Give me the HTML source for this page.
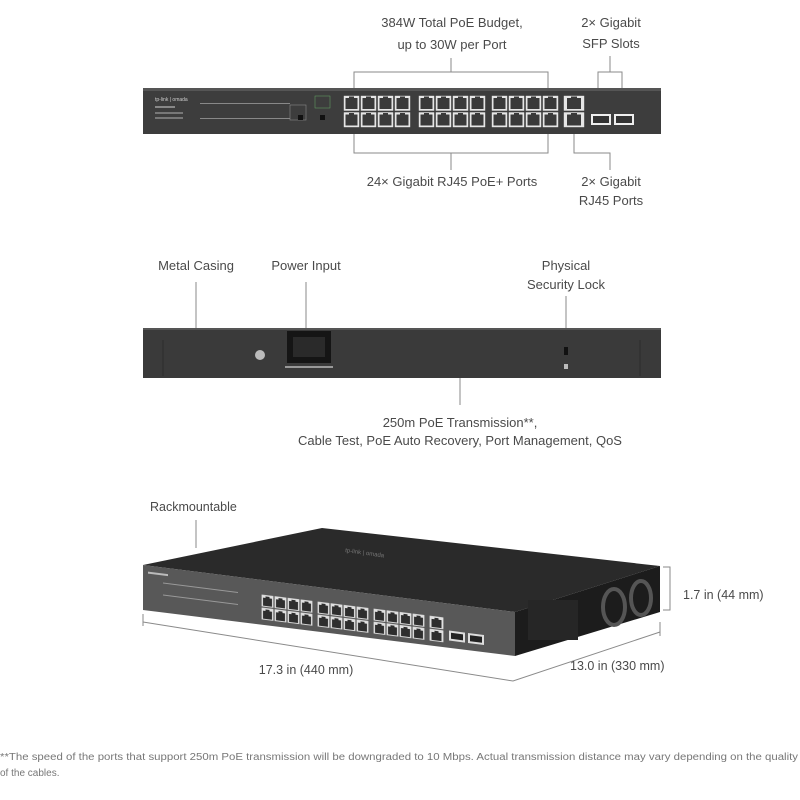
<!DOCTYPE html>
<html><head><meta charset="utf-8"><style>
html,body{margin:0;padding:0;background:#fff;width:800px;height:800px;overflow:hidden}
text{font-family:"Liberation Sans",sans-serif;fill:#4a4a4a;font-size:13px}
</style></head><body>
<svg width="800" height="800" viewBox="0 0 800 800" xmlns="http://www.w3.org/2000/svg">
<defs>
<pattern id="rj" x="0" y="0" width="0.25" height="0.5" patternUnits="objectBoundingBox" patternContentUnits="userSpaceOnUse">
<rect x="0.8" y="0.8" width="15.4" height="14.9" fill="#e6e6e6"/>
<rect x="2.5" y="3" width="12" height="11" fill="#3a3a3a"/>
<rect x="6" y="1.5" width="5" height="3" fill="#3a3a3a"/>
</pattern>
<pattern id="rjS" x="0" y="0" width="1" height="0.5" patternUnits="objectBoundingBox" patternContentUnits="userSpaceOnUse">
<rect x="0.8" y="0.8" width="20.4" height="14.9" fill="#e6e6e6"/>
<rect x="4" y="3" width="14" height="11" fill="#3a3a3a"/>
<rect x="8" y="1.5" width="6" height="3" fill="#3a3a3a"/>
</pattern>
<pattern id="rj3" x="0" y="0" width="0.25" height="0.5" patternUnits="objectBoundingBox" patternContentUnits="userSpaceOnUse">
<rect x="0.6" y="0.6" width="11.8" height="11.8" fill="#e0e0e0"/>
<rect x="2" y="3.5" width="9" height="8" fill="#2e2e2e"/>
<rect x="4.5" y="2" width="4" height="2.5" fill="#2e2e2e"/>
</pattern>
<pattern id="rj3S" x="0" y="0" width="1" height="0.5" patternUnits="objectBoundingBox" patternContentUnits="userSpaceOnUse">
<rect x="0.6" y="0.6" width="13.8" height="11.8" fill="#e0e0e0"/>
<rect x="2.5" y="3.5" width="10" height="8" fill="#2e2e2e"/>
<rect x="5.5" y="2" width="4" height="2.5" fill="#2e2e2e"/>
</pattern>
</defs>
<g stroke="#8a8a8a" stroke-width="1" fill="none">
<path d="M354 88V72H548V88M451 72V58"/>
<path d="M598 116V72H622V116M610 72V56"/>
<path d="M354 130V153H548V130M451 153V170"/>
<path d="M574 128V153H610V170"/>
<path d="M196 282V328M306 282V334M566 296V350M460 378V405"/>
<path d="M196 520V548"/>
<path d="M143 622L513 681L660 632"/>
<path d="M143 614V626M660 622V636"/>
<path d="M663 567H670V610H663"/>
</g>
<text x="452" y="27" text-anchor="middle">384W Total PoE Budget,</text>
<text x="452" y="49" text-anchor="middle">up to 30W per Port</text>
<text x="611" y="27" text-anchor="middle">2× Gigabit</text>
<text x="611" y="48" text-anchor="middle">SFP Slots</text>
<text x="452" y="186" text-anchor="middle">24× Gigabit RJ45 PoE+ Ports</text>
<text x="611" y="186" text-anchor="middle">2× Gigabit</text>
<text x="611" y="205" text-anchor="middle">RJ45 Ports</text>
<!-- top switch -->
<rect x="143" y="88" width="518" height="46" fill="#3d3d3d"/>
<rect x="143" y="88" width="518" height="3" fill="#555"/>
<text x="155" y="101" style="font-size:5px;fill:#ccc">tp-link | omada</text>
<rect x="155" y="106" width="20" height="2" fill="#888"/>
<rect x="155" y="112" width="28" height="2" fill="#777"/>
<rect x="155" y="117" width="28" height="2" fill="#777"/>
<rect x="200" y="103" width="90" height="1" fill="#888"/>
<rect x="200" y="118" width="90" height="1" fill="#888"/>
<rect x="290" y="105" width="16" height="15" fill="none" stroke="#888" stroke-width="0.6"/>
<rect x="298" y="115" width="5" height="5" fill="#111"/>
<rect x="320" y="115" width="5" height="5" fill="#111"/>
<rect x="315" y="96" width="15" height="12" fill="none" stroke="#6a6" stroke-width="0.5"/>
<rect x="343" y="95" width="68" height="33" fill="url(#rj)"/>
<rect x="418" y="95" width="68" height="33" fill="url(#rj)"/>
<rect x="491" y="95" width="68" height="33" fill="url(#rj)"/>
<rect x="563" y="95" width="22" height="33" fill="url(#rjS)"/>
<rect x="591" y="114" width="20" height="11" fill="#eee"/><rect x="593" y="116" width="16" height="7" fill="#333"/>
<rect x="614" y="114" width="20" height="11" fill="#eee"/><rect x="616" y="116" width="16" height="7" fill="#333"/>
<!-- middle labels -->
<text x="196" y="270" text-anchor="middle">Metal Casing</text>
<text x="306" y="270" text-anchor="middle">Power Input</text>
<text x="566" y="270" text-anchor="middle">Physical</text>
<text x="566" y="289" text-anchor="middle">Security Lock</text>
<text x="460" y="427" text-anchor="middle">250m PoE Transmission**,</text>
<text x="460" y="445" text-anchor="middle">Cable Test, PoE Auto Recovery, Port Management, QoS</text>
<!-- rear panel -->
<rect x="143" y="328" width="518" height="50" fill="#3a3a3a"/>
<rect x="143" y="328" width="518" height="2" fill="#555"/>
<line x1="163" y1="340" x2="163" y2="376" stroke="#2c2c2c"/>
<line x1="640" y1="340" x2="640" y2="376" stroke="#2c2c2c"/>
<circle cx="260" cy="355" r="5" fill="#bbb"/>
<rect x="287" y="331" width="44" height="32" fill="#151515"/>
<rect x="293" y="337" width="32" height="20" fill="#2a2a2a"/>
<rect x="285" y="366" width="48" height="2" fill="#999"/>
<rect x="564" y="347" width="4" height="8" fill="#111"/>
<rect x="564" y="364" width="4" height="5" fill="#bbb"/>
<!-- bottom switch 3D -->
<text x="150" y="511" style="font-size:12.5px">Rackmountable</text>
<polygon points="143,565 322,528 660,566 515,612" fill="#2a2a2a"/>
<polygon points="515,612 660,566 660,612 515,656" fill="#1c1c1c"/>
<polygon points="143,565 515,612 515,656 143,610" fill="#585858"/>
<rect x="528" y="600" width="50" height="40" fill="#262626"/>
<ellipse cx="614" cy="607" rx="11" ry="18" fill="none" stroke="#555" stroke-width="4"/>
<ellipse cx="641" cy="598" rx="10" ry="17" fill="none" stroke="#555" stroke-width="4"/>
<text x="345" y="552" style="font-size:6px;fill:#777" transform="rotate(8 345 552)">tp-link | omada</text>
<g transform="matrix(1,0.126,0,1,143,565)">
<rect x="118" y="14" width="52" height="26" fill="url(#rj3)"/>
<rect x="174" y="14" width="52" height="26" fill="url(#rj3)"/>
<rect x="230" y="14" width="52" height="26" fill="url(#rj3)"/>
<rect x="286" y="14" width="15" height="26" fill="url(#rj3S)"/>
<rect x="306" y="27" width="16" height="10" fill="#ddd"/><rect x="308" y="29" width="12" height="6" fill="#222"/>
<rect x="325" y="27" width="16" height="10" fill="#ddd"/><rect x="327" y="29" width="12" height="6" fill="#222"/>
<rect x="20" y="15" width="75" height="1" fill="#999"/>
<rect x="20" y="27" width="75" height="1" fill="#999"/>
<rect x="5" y="6" width="20" height="2" fill="#bbb"/>
</g>
<text x="306" y="674" text-anchor="middle" style="font-size:12.5px">17.3 in (440 mm)</text>
<text x="570" y="670" style="font-size:12.5px">13.0  in (330 mm)</text>
<text x="683" y="599" style="font-size:12.5px">1.7 in (44 mm)</text>
<text x="0" y="760" style="font-size:10px;fill:#777" textLength="798" lengthAdjust="spacingAndGlyphs">**The speed of the ports that support 250m PoE transmission will be downgraded to 10 Mbps. Actual transmission distance may vary depending on the quality</text>
<text x="0" y="776" style="font-size:10px;fill:#777">of the cables.</text>
</svg>
</body></html>
